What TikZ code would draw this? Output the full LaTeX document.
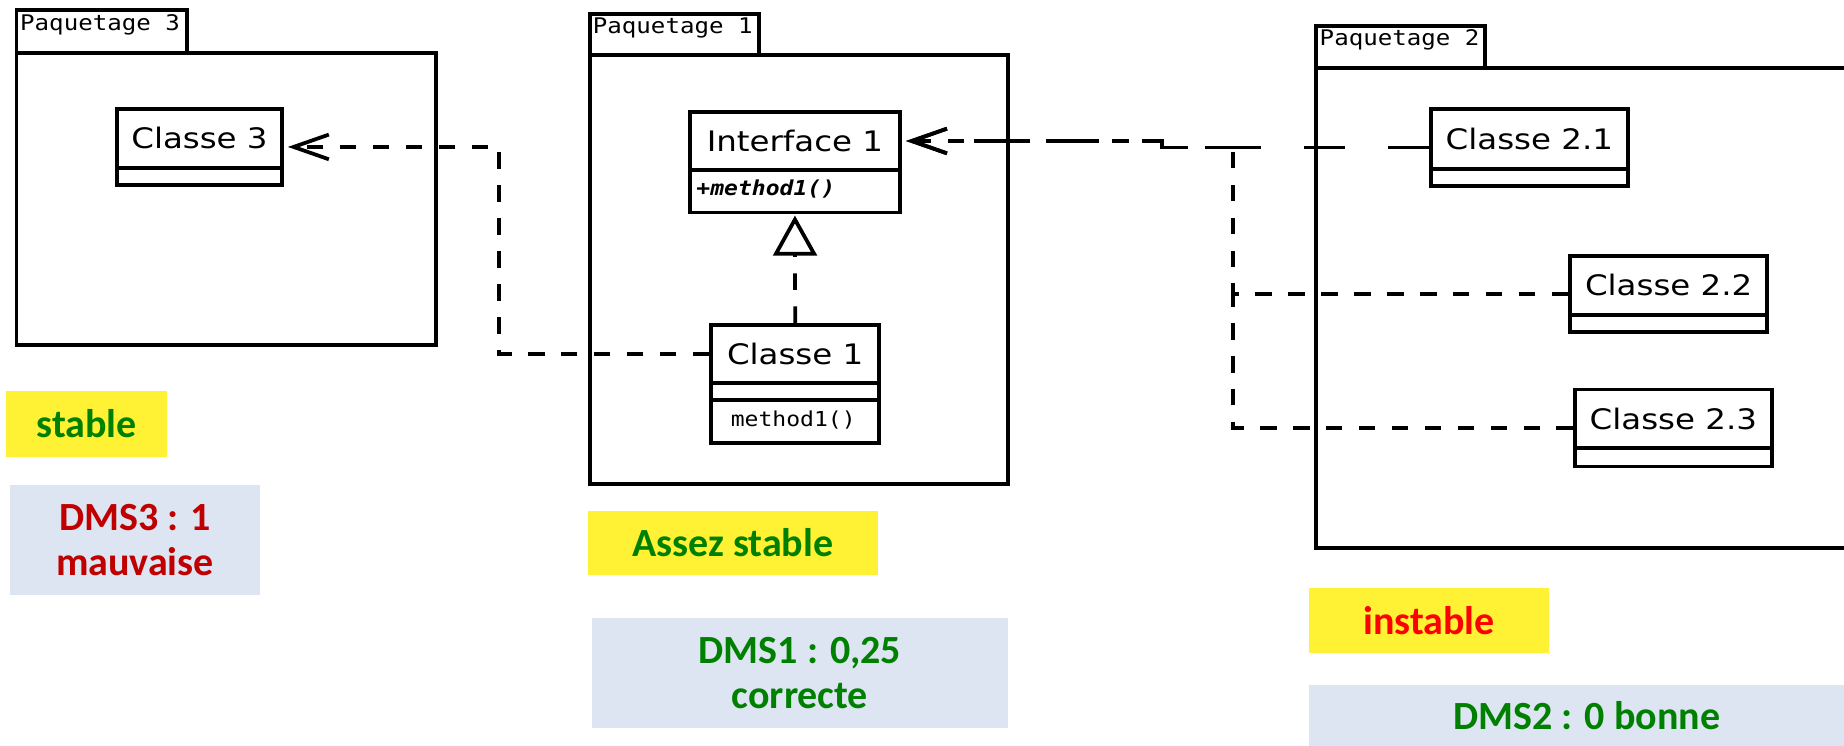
\documentclass[tikz,border=0pt]{standalone}
\usepackage{fontspec}
\usetikzlibrary{arrows.meta}
\newfontfamily\umlsans{DejaVu Sans}[FakeStretch=1.15]
\newfontfamily\umlmono{DejaVu Sans Mono}[FakeStretch=1.12]
\newfontfamily\notefont{Carlito}
\definecolor{noteyellow}{RGB}{255,241,51}
\definecolor{noteblue}{RGB}{220,229,241}
\definecolor{goodgreen}{RGB}{0,128,0}
\definecolor{badred}{RGB}{192,0,0}
\definecolor{alertred}{RGB}{255,0,0}
\begin{document}
\begin{tikzpicture}[x=1pt,y=-1pt,
  outline/.style={draw, line width=3.3pt, fill=white, inner sep=0pt, anchor=north west},
  pkgname/.style={anchor=base west, inner sep=0pt, font=\umlmono\fontsize{18.3}{20}\selectfont},
  classname/.style={outline, font=\umlsans\fontsize{24}{28}\selectfont},
  member/.style={inner sep=0pt, font=\umlmono\fontsize{17.5}{20}\selectfont},
  link/.style={line width=3.2pt, dash pattern=on 14pt off 14pt},
  uses/.style={link, -{Straight Barb[length=30pt,width=21pt]}, shorten >=3.5pt},
  useslong/.style={uses, dash pattern=on 35pt off 36.5pt},
  realizes/.style={link, -{Triangle[open,length=34pt,width=37pt,fill=white]}, shorten >=1pt},
  note/.style={inner sep=0pt, anchor=north west, align=center,
    font=\notefont\bfseries\fontsize{34}{38}\selectfont},
]
\useasboundingbox (0,0) rectangle (1568,634);
\fill[white] (0,0) rectangle (1568,634);
\clip (0,0) rectangle (1568,634);

% packages
\node[outline, minimum width=144.6pt, minimum height=36.4pt] (p3tab) at (12.4,7) {};
\node[outline, minimum width=356.6pt, minimum height=248.2pt] (p3) at (12.4,43.4) {};
\node[pkgname] (p3name) at (17,25.8) {Paquetage 3};

\node[outline, minimum width=144pt, minimum height=34.8pt] (p1tab) at (500,10) {};
\node[outline, minimum width=355.5pt, minimum height=364.8pt] (p1) at (500,44.8) {};
\node[pkgname] (p1name) at (504,28.3) {Paquetage 1};

\node[outline, minimum width=144pt, minimum height=35.4pt] (p2tab) at (1117,20.6) {};
\node[outline, minimum width=480pt, minimum height=408.5pt] (p2) at (1117,56) {};
\node[pkgname] (p2name) at (1122,39) {Paquetage 2};

% classes
\node[outline, minimum width=140pt, minimum height=64.6pt] (c3) at (98,91) {};
\node[classname, minimum width=140pt, minimum height=50pt] (c3n) at (98,91) {Classe 3};

\node[outline, minimum width=178.6pt, minimum height=85.5pt] (i1) at (585,93.5) {};
\node[classname, minimum width=178.6pt, minimum height=49.5pt] (i1n) at (585,93.5) {Interface 1};
\node[member, anchor=west, font=\umlmono\bfseries\itshape\fontsize{17.5}{20}\selectfont] (i1m) at (592,161) {+method1()};

\node[outline, minimum width=143pt, minimum height=100.5pt] (c1) at (603,274.5) {};
\node[classname, minimum width=143pt, minimum height=49.5pt] (c1n) at (603,274.5) {Classe 1};
\node[outline, minimum width=143pt, minimum height=14.5pt] (c1a) at (603,324) {};
\node[member, anchor=center] (c1o) at (674.5,356.75) {method1()};

\node[outline, minimum width=167.6pt, minimum height=65.4pt] (c21) at (1215,91) {};
\node[classname, minimum width=167.6pt, minimum height=51pt] (c21n) at (1215,91) {Classe 2.1};

\node[outline, minimum width=167.5pt, minimum height=65pt] (c22) at (1333.5,216) {};
\node[classname, minimum width=167.5pt, minimum height=50pt] (c22n) at (1333.5,216) {Classe 2.2};

\node[outline, minimum width=167.5pt, minimum height=65.5pt] (c23) at (1337.5,329.5) {};
\node[classname, minimum width=167.5pt, minimum height=50pt] (c23n) at (1337.5,329.5) {Classe 2.3};

% dependencies and realization
\coordinate (k3) at ([xshift=183pt]c3.east);
\draw[uses] (c1n.west) -| (k3) -- (c3.east);
\draw[realizes] (c1n.north) -- (i1.south);

\coordinate (j1) at ([xshift=-227pt]c21.west);
\coordinate (t1) at ([xshift=-166.4pt]c21.west);
\coordinate (t2) at (t1 |- c22.west);
\draw[useslong] (c21.west) -- (j1) |- (i1n.east);
\draw[uses] (c22.west) -| (t1) -- (j1) |- (i1n.east);
\draw[link] (c23.west) -| (t2);

% stability notes
\node[note, fill=noteyellow, text=goodgreen, minimum width=137pt, minimum height=56pt] (st3) at (5,332) {stable};
\node[note, fill=noteblue, text=badred, minimum width=213pt, minimum height=94pt] (dms3) at (8,412) {DMS3 : 1\\mauvaise};
\node[note, fill=noteyellow, text=goodgreen, minimum width=246pt, minimum height=55pt] (st1) at (500,434) {Assez stable};
\node[note, fill=noteblue, text=goodgreen, minimum width=354pt, minimum height=94pt] (dms1) at (503,525) {DMS1 : 0,25\\correcte};
\node[note, fill=noteyellow, text=alertred, minimum width=204pt, minimum height=55pt] (st2) at (1113,500) {instable};
\node[note, fill=noteblue, text=goodgreen, minimum width=472pt, minimum height=52pt] (dms2) at (1113,582) {DMS2 : 0 bonne};
\end{tikzpicture}
\end{document}
